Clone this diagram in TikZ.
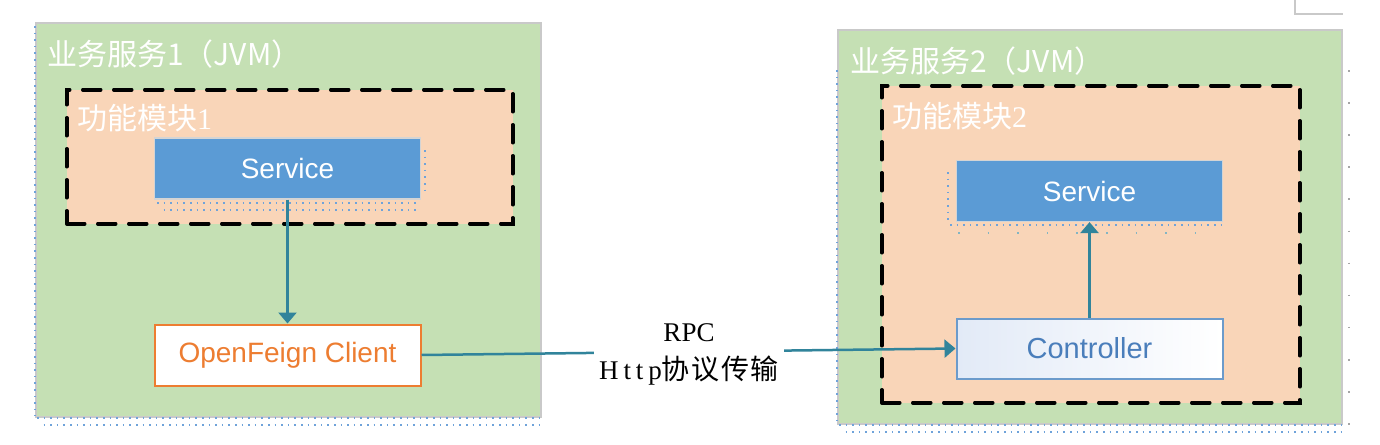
\documentclass[tikz,border=0pt]{standalone}
\usepackage{fontspec}
\setmainfont{Liberation Serif}
\setsansfont{Liberation Sans}
\newfontfamily\cjk{Noto Sans CJK SC}
\usetikzlibrary{arrows.meta}
\definecolor{jvmgreen}{HTML}{C5E0B4}
\definecolor{peach}{HTML}{F9D5B8}
\definecolor{svcblue}{HTML}{5B9BD5}
\definecolor{feign}{HTML}{ED7D31}
\definecolor{arrowteal}{HTML}{31849B}
\definecolor{ctrlborder}{HTML}{6C9BCB}
\definecolor{ctrltext}{HTML}{4A7EBB}
\definecolor{ctrlfill}{HTML}{E2EAF7}
\definecolor{edgegray}{HTML}{C9C9C9}
\definecolor{dotblue}{HTML}{6FA3DA}
\newcommand{\fsz}[1]{\fontsize{#1}{#1}\selectfont}
\begin{document}
\begin{tikzpicture}[x=1pt,y=-1pt,
  jvm/.style={draw=edgegray, line width=2pt, fill=jvmgreen, inner sep=0pt, anchor=north west},
  module/.style={draw=black, line width=3.5pt, line cap=round, dash pattern=on 18pt off 13pt, fill=peach, inner sep=0pt, anchor=north west},
  title/.style={text=white, font=\cjk\fsz{30}, anchor=west, inner sep=0pt},
  modtitle/.style={text=white, font=\cjk\fsz{30}, anchor=west, inner sep=0pt},
  svc/.style={draw=edgegray!80, line width=1.2pt, fill=svcblue, text=white, font=\sffamily\fsz{28}, minimum width=266pt, minimum height=61pt, inner sep=0pt},
  client/.style={draw=feign, line width=2pt, fill=white, text=feign, font=\sffamily\fsz{28}, minimum width=266pt, minimum height=61pt, inner sep=0pt},
  ctrl/.style={draw=ctrlborder, line width=2pt, left color=ctrlfill, right color=white, text=ctrltext, font=\sffamily\fsz{29}, minimum width=266pt, minimum height=60pt, inner sep=0pt},
  conn/.style={draw=arrowteal, line width=2.5pt, -{Triangle[length=11pt,width=18pt]}},
  dots/.style={draw=dotblue, line width=1.6pt, dash pattern=on 1.6pt off 5pt},
  gdots/.style={draw=gray!70, line width=1.6pt, dash pattern=on 1.6pt off 30.5pt}
]
\useasboundingbox (0,0) rectangle (1380,444);
\fill[white] (0,0) rectangle (1380,444);

% top-right gray corner
\draw[edgegray, line width=2pt] (1295,0) -- (1295,14) -- (1343,14);

% JVM containers
\node[jvm, minimum width=505pt, minimum height=394pt] (jvm1) at (35,22) {};
\node[jvm, minimum width=504pt, minimum height=394pt] (jvm2) at (837,29) {};

% dotted traces
\draw[dots] (35,26) -- (35,416);
\draw[dots] (37,418) -- (540,418);
\draw[dots, dash phase=3pt] (40,425) -- (540,425);
\draw[dots] (837,70) -- (837,422);
\draw[dots] (839,425) -- (1341,425);
\draw[dots, dash phase=3pt] (842,432) -- (1341,432);
\draw[gdots] (1349,70) -- (1349,430);

\node[title] (t1) at (47,54.5) {业务服务1（JVM）};
\node[title] (t2) at (850,61.5) {业务服务2（JVM）};

% modules
\node[module, minimum width=446pt, minimum height=134pt] (mod1) at (65,88) {};
\node[module, minimum width=418pt, minimum height=317pt] (mod2) at (880,84) {};

\node[modtitle] (m1) at (77,118) {功能模块{\rmfamily 1}};
\node[modtitle] (m2) at (892,116.5) {功能模块{\rmfamily 2}};

% shadows of service boxes
\draw[dots] (425,150) -- (425,196);
\draw[dots] (157,203) -- (420,203);
\draw[dots, dash phase=3pt] (160,210) -- (420,210);
\draw[dots] (948,172) -- (948,220);
\draw[dots] (950,225) -- (1222,225);
\draw[dots, draw=arrowteal!60, dash pattern=on 1.6pt off 28pt] (958,233) -- (1222,233);

% inner boxes
\node[svc] (svc1) at (287.5,168.5) {Service};
\node[client] (feign) at (287.5,355) {OpenFeign Client};
\node[svc] (svc2) at (1089.5,191) {Service};
\node[ctrl] (ctrl) at (1089.5,348.5) {Controller};

% connectors
\draw[conn] (svc1.south) -- (feign.north);
\draw[conn] (ctrl.north) -- (svc2.south);
\draw[conn] (feign.east) -- (ctrl.west);

\node[fill=white, inner sep=0pt, minimum width=190pt, minimum height=64pt, align=center, font=\fsz{27}] (rpc) at (689,354)
  {RPC\\[11pt]{\addfontfeature{LetterSpace=18}Http}{\cjk\fsz{28}\addfontfeature{LetterSpace=6}协议传输}};
\end{tikzpicture}
\end{document}
